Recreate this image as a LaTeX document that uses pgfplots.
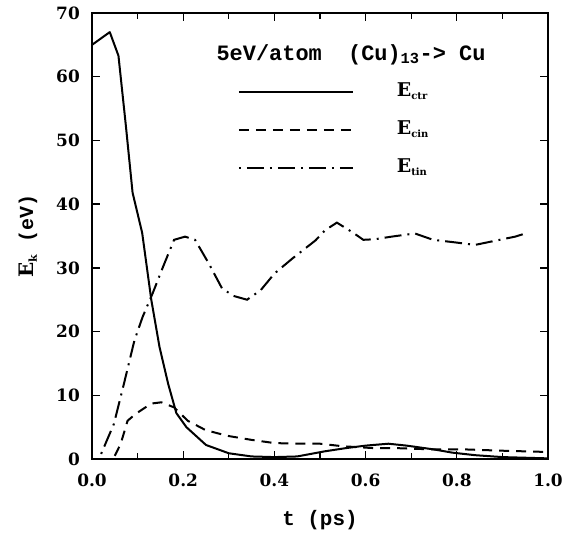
\documentclass[border=0pt]{standalone}
\usepackage{pgfplots}
\pgfplotsset{compat=1.18}
\usepackage{fontspec}
\setmainfont{Liberation Mono}
\newfontfamily\efont{DejaVu Serif}

% E with a small lowered subscript
\newcommand{\Esub}[2][10]{{\efont\bfseries E}\raisebox{-0.35ex}{\fontsize{#1}{#1}\selectfont\efont\bfseries #2}}

\begin{document}
\begin{tikzpicture}
\begin{axis}[
  name=ax,
  scale only axis, width=456bp, height=446bp,
  xmin=0, xmax=1, ymin=0, ymax=70,
  xtick={0,0.2,0.4,0.6,0.8,1.0},
  xticklabels={0.0,0.2,0.4,0.6,0.8,1.0},
  minor xtick={0.1,0.3,0.5,0.7,0.9},
  ytick={0,10,20,30,40,50,60,70},
  yticklabels={0,10,20,30,40,50,60,70},
  tick align=inside,
  major tick length=8bp, minor tick length=6bp,
  tick style={black, line width=1.3bp},
  axis line style={line width=2.5bp},
  ticklabel style={font=\fontsize{17}{17}\selectfont\efont\bfseries, inner sep=0pt},
  xticklabel style={yshift=-15bp},
  yticklabel style={xshift=-12bp},
  xlabel={t (ps)},
  xlabel style={at={(axis description cs:0.5,0)}, anchor=center, yshift=-61bp,
    font=\fontsize{21}{21}\selectfont\bfseries},
  ylabel={\Esub[11]{k} (eV)},
  ylabel style={at={(axis description cs:0,0.5)}, anchor=center, yshift=64bp,
    font=\fontsize{20}{20}\selectfont\bfseries},
  legend style={at={(rel axis cs:0.32,0.738)}, anchor=west, draw=none, fill=none,
    inner sep=0pt, outer sep=0pt, row sep=19bp, column sep=43bp,
    nodes={inner sep=0pt, text height=14bp, text depth=5bp, anchor=west},
    font=\fontsize{19}{19}\selectfont},
  legend cell align=left,
  legend image code/.code={\draw[#1] (0bp,0bp) -- (114bp,0bp);},
]
\addplot[black, line width=2bp, line join=round] coordinates {
  (0,65) (0.039,67) (0.058,63.3) (0.074,52.5) (0.089,41.8) (0.11,35.5)
  (0.13,25) (0.148,17.6) (0.167,11.8) (0.185,7.2) (0.207,5.0) (0.25,2.2)
  (0.30,0.9) (0.35,0.4) (0.40,0.3) (0.45,0.4) (0.51,1.2) (0.556,1.7)
  (0.60,2.1) (0.65,2.4) (0.69,2.1) (0.75,1.5) (0.79,1.0) (0.84,0.6)
  (0.90,0.3) (1.0,0.1)
};
\addlegendentry{\Esub{ctr}}
\addplot[black, line width=2bp, dash pattern=on 10bp off 7bp] coordinates {
  (0.05,0.5) (0.063,2.4) (0.078,6.0) (0.096,7.1) (0.13,8.7) (0.152,8.9)
  (0.18,8.1) (0.21,6.0) (0.25,4.5) (0.30,3.6) (0.35,3.0) (0.40,2.5)
  (0.45,2.4) (0.50,2.4) (0.55,2.0) (0.62,1.7) (0.67,1.7) (0.75,1.5)
  (0.82,1.5) (0.90,1.3) (1.0,1.1)
};
\addlegendentry{\Esub{cin}}
\addplot[black, line width=2bp, dash pattern=on 2bp off 6bp on 17bp off 6bp] coordinates {
  (0.02,0.8) (0.048,5.5) (0.07,11.8) (0.093,18.6) (0.111,22.3) (0.133,26)
  (0.156,30.2) (0.18,34.4) (0.204,34.9) (0.226,34.4) (0.256,30.7) (0.285,26.8)
  (0.31,25.6) (0.34,25) (0.37,26.5) (0.40,29.1) (0.44,31.5) (0.49,34.3)
  (0.511,35.9) (0.537,37.1) (0.573,35.5) (0.595,34.4) (0.621,34.5) (0.657,34.9)
  (0.708,35.4) (0.748,34.4) (0.796,34.0) (0.84,33.6) (0.887,34.3) (0.928,34.9)
  (0.955,35.5)
};
\addlegendentry{\Esub{tin}}
\node[font=\fontsize{22}{22}\selectfont\bfseries, inner sep=0pt]
  at (rel axis cs:0.568,0.906) {5eV/atom\ \ (Cu)\textsubscript{13}-> Cu};
\end{axis}
\pgfresetboundingbox
\path (ax.south west) ++(-92bp,-76bp) rectangle ++(564bp,535bp);
\end{tikzpicture}
\end{document}
